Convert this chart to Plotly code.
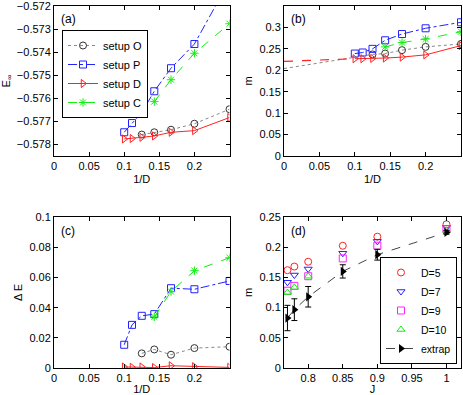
import plotly.graph_objects as go

# bond dimensions and 1/D
D_vals = [10, 9, 8, 7, 6, 5, 4]
invD = [1.0 / d for d in D_vals]

# (a) energy per site
E_O = [None, None, -0.57757, -0.57747, -0.57736, -0.57710, -0.57647]
E_P = [-0.57747, -0.57707, -0.57661, -0.57569, -0.57469, -0.57364, -0.57089]
E_D = [-0.57776, -0.57774, -0.57769, -0.57763, -0.57747, -0.57740, -0.57683]
E_C = [None, None, None, -0.57614, -0.57519, -0.57404, -0.57276]

# (b) magnetization
m_O = [None, None, 0.237, 0.239, 0.247, 0.2546, 0.2615]
m_P = [0.239, 0.2415, 0.250, 0.270, 0.2846, 0.298, 0.312]
m_D = [0.227, 0.227, 0.2277, 0.2285, 0.2308, 0.236, 0.2577]
m_C = [None, None, None, 0.2546, 0.2646, 0.273, 0.290]
fitO_x = [0, 0.125]
fitO_y = [0.204, 0.237]
fitD_x = [0, 0.1]
fitD_y = [0.2208, 0.227]

# (c) energy difference
dE_O = [None, None, 0.0097, 0.0123, 0.0088, 0.0132, 0.0141]
dE_P = [0.0154, 0.0286, 0.0346, 0.0357, 0.0529, 0.0522, 0.0577]
dE_D = [0.0007, 0.0005, 0.0007, 0.0003, 0.0015, 0.0009, 0.0004]
dE_C = [None, None, None, 0.0339, 0.0507, 0.0645, 0.0731]

# (d) m vs J
J = [0.77, 0.78, 0.8, 0.85, 0.9, 1.0]
m_D5 = [0.162, 0.168, 0.176, 0.2025, 0.2175, 0.238]
m_D7 = [0.142, 0.154, 0.164, 0.190, 0.2097, 0.233]
m_D9 = [0.128, 0.136, 0.152, 0.1815, 0.2025, 0.230]
m_D10 = [0.125, 0.1335, 0.152, None, None, 0.228]
m_ext = [0.0828, 0.0966, 0.118, 0.160, 0.1877, 0.2245]
m_err = [0.021, 0.018, 0.017, 0.011, 0.009, 0.003]

E_ticks = [-0.578, -0.577, -0.576, -0.575, -0.574, -0.573, -0.572]

BLK = "#333333"
BLUE = "#2222ff"
RED = "#ff2222"
GREEN = "#11ee11"

setups = [
    ("setup O", BLK, "dot", "circle-open", "#888888"),
    ("setup P", BLUE, "dashdot", "square-open", BLUE),
    ("setup D", RED, "solid", "triangle-right-open", RED),
    ("setup C", GREEN, "dash", "asterisk-open", GREEN),
]
data_a = [E_O, E_P, E_D, E_C]
data_b = [m_O, m_P, m_D, m_C]
data_c = [dE_O, dE_P, dE_D, dE_C]

fig = go.Figure()

for panel, (xa, ya) in enumerate([("x", "y"), ("x2", "y2"), ("x3", "y3")]):
    vals = [data_a, data_b, data_c][panel]
    for (name, col, dash, sym, lcol), yv in zip(setups, vals):
        fig.add_trace(go.Scatter(
            x=invD, y=yv, name=name, mode="lines+markers",
            line=dict(color=lcol, dash=dash, width=1),
            marker=dict(symbol=sym, color=col, size=7, line=dict(width=1, color=col)),
            xaxis=xa, yaxis=ya, showlegend=(panel == 0), legend="legend",
            connectgaps=False))

fig.add_trace(go.Scatter(x=fitO_x, y=fitO_y, mode="lines", line=dict(color="#888888", dash="dot", width=1),
                         xaxis="x2", yaxis="y2", showlegend=False))
fig.add_trace(go.Scatter(x=fitD_x, y=fitD_y, mode="lines", line=dict(color=RED, dash="dash", width=1.2),
                         xaxis="x2", yaxis="y2", showlegend=False))

d_series = [
    ("D=5", m_D5, RED, "circle-open"),
    ("D=7", m_D7, BLUE, "triangle-down-open"),
    ("D=9", m_D9, "#ff22ff", "square-open"),
    ("D=10", m_D10, GREEN, "triangle-up-open"),
]
for name, yv, col, sym in d_series:
    fig.add_trace(go.Scatter(x=J, y=yv, name=name, mode="markers",
                             marker=dict(symbol=sym, color=col, size=7, line=dict(width=1, color=col)),
                             xaxis="x4", yaxis="y4", legend="legend2"))
fig.add_trace(go.Scatter(x=J, y=m_ext, name="extrap", mode="lines+markers",
                         line=dict(color="#444444", dash="dash", width=1),
                         marker=dict(symbol="triangle-right", color="black", size=8),
                         error_y=dict(type="data", array=m_err, color="black", thickness=1, width=3),
                         xaxis="x4", yaxis="y4", legend="legend2"))

W, H = 463, 395
def xd(a, b):
    return [a / W, b / W]
def yd(top, bot):
    return [1 - bot / H, 1 - top / H]

ax = dict(showgrid=False, zeroline=False, showline=True, linecolor="black", linewidth=1,
          mirror="ticks", ticks="inside", ticklen=4, tickcolor="black", automargin=False,
          ticklabeloverflow="allow",
          tickfont=dict(size=11, color="black"), title_font=dict(size=11, color="black"),
          title_standoff=4)

invD_ticks = [0, 0.05, 0.1, 0.15, 0.2]
invD_text = ["0", "0.05", "0.1", "0.15", "0.2"]

fig.update_layout(
    width=W, height=H, margin=dict(l=0, r=0, t=0, b=0),
    paper_bgcolor="white", plot_bgcolor="white",
    font=dict(family="Liberation Sans, Arial", size=11, color="black"),
    xaxis=dict(ax, domain=xd(54, 229.5), range=[0, 0.25], tickvals=invD_ticks, ticktext=invD_text,
               title_text="1/D", anchor="y"),
    yaxis=dict(ax, domain=yd(6, 156), range=[-0.5785, -0.57199], tickvals=E_ticks,
               ticktext=["−%.3f" % abs(v) for v in E_ticks],
               title_text="E<sub>∞</sub>", anchor="x"),
    xaxis2=dict(ax, domain=xd(284, 461), range=[0, 0.25], tickvals=invD_ticks, ticktext=invD_text,
                title_text="1/D", anchor="y2"),
    yaxis2=dict(ax, domain=yd(6, 156), range=[0, 0.35],
                tickvals=[0, 0.05, 0.1, 0.15, 0.2, 0.25, 0.3],
                ticktext=["0", "0.05", "0.1", "0.15", "0.2", "0.25", "0.3"],
                title_text="m", anchor="x2"),
    xaxis3=dict(ax, domain=xd(54, 229.5), range=[0, 0.25], tickvals=invD_ticks, ticktext=invD_text,
                title_text="1/D", anchor="y3"),
    yaxis3=dict(ax, domain=yd(217, 368), range=[0, 0.1001],
                tickvals=[0, 0.02, 0.04, 0.06, 0.08, 0.1],
                ticktext=["0", "0.02", "0.04", "0.06", "0.08", "0.1"],
                title_text="Δ E", anchor="x3"),
    xaxis4=dict(ax, domain=xd(284, 461), range=[0.765, 1.021],
                tickvals=[0.8, 0.85, 0.9, 0.95, 1], ticktext=["0.8", "0.85", "0.9", "0.95", "1"],
                title_text="J", anchor="y4"),
    yaxis4=dict(ax, domain=yd(217, 368), range=[0, 0.2501],
                tickvals=[0, 0.05, 0.1, 0.15, 0.2, 0.25],
                ticktext=["0", "0.05", "0.1", "0.15", "0.2", "0.25"],
                title_text="m", anchor="x4"),
    legend=dict(x=62 / W, y=1 - 30 / H, xanchor="left", yanchor="top", bgcolor="white",
                bordercolor="black", borderwidth=1, font=dict(size=11), tracegroupgap=0),
    legend2=dict(x=457 / W, y=1 - 364 / H, xanchor="right", yanchor="bottom", bgcolor="white",
                 bordercolor="black", borderwidth=1, font=dict(size=10.5), tracegroupgap=0),
)

for lab, xr, yr in [("(a)", "x", "y"), ("(b)", "x2", "y2"), ("(c)", "x3", "y3"), ("(d)", "x4", "y4")]:
    fig.add_annotation(text=lab, xref=xr + " domain", yref=yr + " domain", x=0.03, y=0.97,
                       xanchor="left", yanchor="top", showarrow=False, font=dict(size=12))

fig.write_html("out.html", config={"displayModeBar": False},
               post_script="document.body.style.margin='0px';")
